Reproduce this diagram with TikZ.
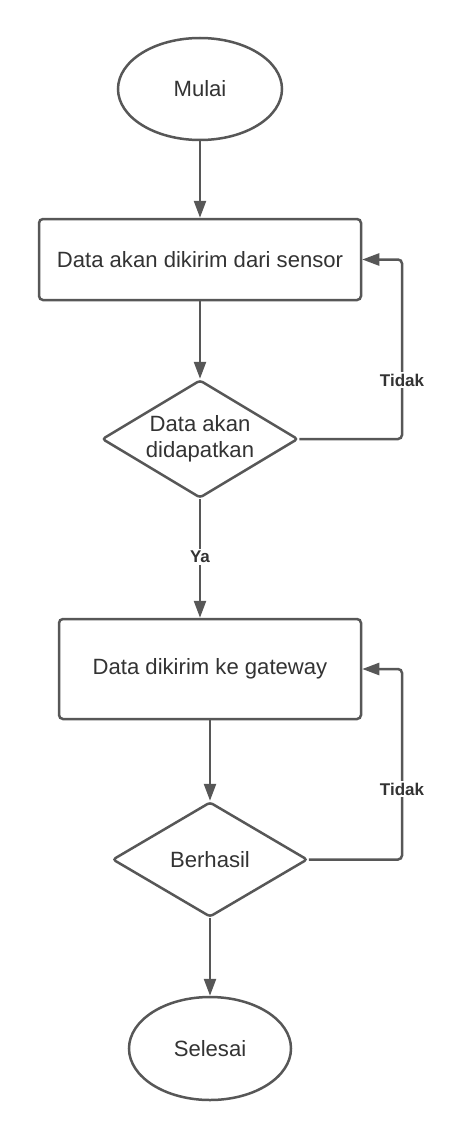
\documentclass[tikz,border=0pt]{standalone}
\usepackage{fontspec}
\setmainfont{Liberation Sans}
\usetikzlibrary{arrows.meta,shapes.geometric,positioning}
\definecolor{garis}{HTML}{575757}
\definecolor{teks}{HTML}{333333}

\begin{document}
\begin{tikzpicture}[x=1pt, y=-1pt,
    base/.style={draw=garis, line width=2.5pt, fill=white, text=teks, inner sep=0pt,
                 font=\fontsize{22.1}{25.5}\selectfont, align=center},
    terminal/.style={base, ellipse},
    proses/.style={base, rectangle, rounded corners=4pt},
    keputusan/.style={base, diamond, rounded corners=3pt},
    alir/.style={draw=garis, line width=2.5pt, rounded corners=4pt,
                 -{Triangle[length=17pt, width=12pt]}},
    ket/.style={fill=white, text=teks, inner sep=2pt, font=\fontsize{17}{20}\selectfont\bfseries}]
  \useasboundingbox (0,0) rectangle (464,1140);
  \node[terminal, minimum width=164pt, minimum height=102pt] (mulai) at (200,89) {Mulai};
  \node[proses, minimum width=322pt, minimum height=81pt] (kirim) at (200,259.5) {Data akan dikirim dari sensor};
  \node[keputusan, minimum width=196pt, minimum height=118pt, aspect=1.66] (dapat) at (200,439) {Data akan\\didapatkan};
  \node[proses, minimum width=302pt, minimum height=100pt] (gateway) at (210,669) {Data dikirim ke gateway};
  \node[keputusan, minimum width=195pt, minimum height=115pt, aspect=1.7] (hasil) at (210,859.5) {Berhasil};
  \node[terminal, minimum width=162pt, minimum height=103pt] (selesai) at (210,1048.5) {Selesai};
  \coordinate (balik1) at (402,350);
  \coordinate (balik2) at (402,760);

  \draw[alir] (mulai) -- (kirim);
  \draw[alir] (kirim) -- (dapat);
  \draw[alir] (dapat.south) -- (dapat.south |- gateway.north);
  \draw[alir] (dapat.east) -| (balik1) |- (kirim.east);
  \draw[alir] (gateway.south) -- (hasil.north);
  \draw[alir] (hasil.east) -| (balik2) |- (gateway.east);
  \draw[alir] (hasil) -- (selesai);
  \node[ket] (ya) at (200,557) {Ya};
  \node[ket] (tidak1) at (402,380) {Tidak};
  \node[ket] (tidak2) at (402,789) {Tidak};
\end{tikzpicture}
\end{document}
